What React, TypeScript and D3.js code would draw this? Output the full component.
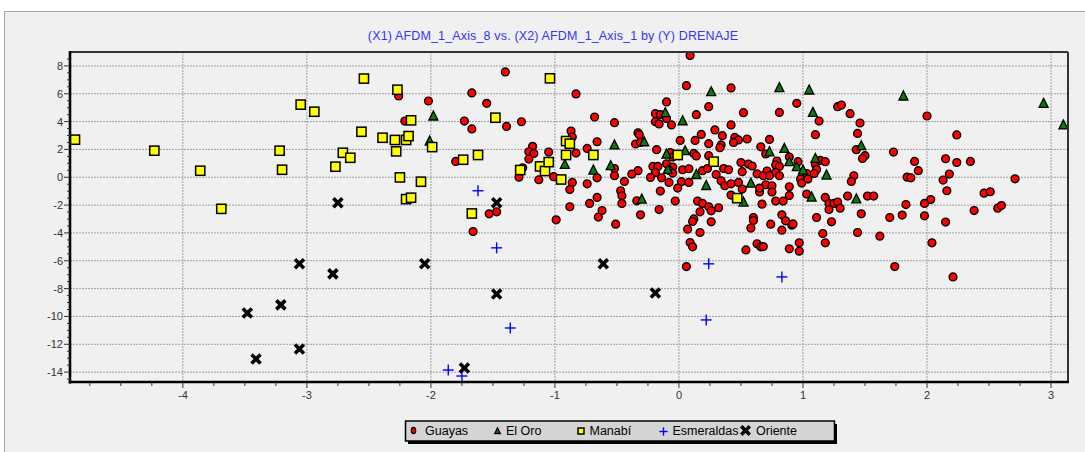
import React from "react";
import * as d3 from "d3";

const title = "(X1) AFDM_1_Axis_8 vs. (X2) AFDM_1_Axis_1 by (Y) DRENAJE";
const seriesNames = ["Guayas", "El Oro", "Manabí", "Esmeraldas", "Oriente"];
const xTicks = [-4, -3, -2, -1, 0, 1, 2, 3];
const yTicks = [8, 6, 4, 2, 0, -2, -4, -6, -8, -10, -12, -14];

const guayas: [number, number][] = [
  [-1.40, 7.57], [-2.26, 5.84], [-1.67, 6.06], [-2.02, 5.48], [-1.55, 5.31], [-0.83, 5.99], [-2.21, 4.04], [-1.73, 4.04],
  [-1.67, 3.47], [-1.39, 3.65], [-1.27, 3.99], [-0.68, 4.33], [-0.87, 3.32], [-0.86, 2.89], [-0.66, 2.55], [-1.18, 2.22],
  [-1.21, 1.83], [-1.17, 1.71], [-1.05, 1.81], [-0.83, 1.74], [-0.74, 2.07], [-1.21, 1.31], [-1.80, 1.14], [-1.26, 0.68],
  [-1.29, 0.01], [-1.13, -0.18], [-1.01, 0.04], [-0.86, -0.37], [-0.74, -0.47], [-0.66, -0.04], [-0.88, -0.88], [-0.66, -1.45],
  [-0.72, -1.88], [-0.88, -2.12], [-1.53, -2.63], [-1.47, -2.48], [-0.99, -3.06], [-0.65, -2.86], [-1.66, -3.90],
  [0.09, 8.74], [0.06, 6.58], [0.42, 6.42], [-0.10, 5.41], [0.24, 5.07], [0.14, 4.50], [0.52, 4.64], [-0.19, 4.57],
  [-0.15, 4.50], [-0.10, 4.23], [-0.52, 3.92], [-0.19, 3.99], [-0.16, 3.83], [-0.06, 3.76], [0.42, 3.76], [-0.33, 3.20],
  [-0.32, 3.06], [0.29, 3.40], [0.18, 3.08], [0.35, 2.99], [0.45, 2.86], [0.48, 2.68], [0.55, 2.75], [-0.35, 2.39],
  [-0.31, 2.50], [0.01, 2.65], [0.13, 2.65], [0.24, 2.41], [0.34, 2.32], [0.33, 2.12], [0.44, 2.50], [-0.18, 1.98],
  [-0.07, 1.78], [-0.05, 1.45], [0.12, 1.71], [0.14, 1.53], [0.24, 1.55], [0.50, 1.06], [0.56, 0.95], [-0.21, 0.78],
  [-0.17, 0.78], [-0.10, 0.97], [-0.05, 0.73], [-0.08, 0.49], [-0.33, 0.47], [-0.38, 0.23], [-0.52, 0.63], [-0.19, 0.35],
  [-0.05, 0.30], [0.03, 0.54], [0.08, 0.61], [0.19, 0.47], [0.23, 0.63], [0.30, 0.20], [0.36, 0.63], [0.40, 0.54],
  [0.51, 0.40], [-0.52, 0.11],
  [-0.23, -0.01], [-0.14, -0.04], [-0.08, -0.37], [0.02, -0.32], [0.08, -0.37], [-0.01, -0.78], [0.34, -0.25], [0.37, -0.61],
  [0.42, -0.47], [0.48, -0.37], [0.51, -0.85], [0.42, -1.28], [-0.44, -0.30], [-0.47, -0.97], [-0.46, -1.33], [-0.15, -0.99],
  [-0.34, -1.69], [-0.46, -1.88], [-0.03, -1.71], [-0.62, -2.39], [-0.31, -2.70], [-0.16, -2.32], [0.15, -1.71], [0.19, -1.88],
  [0.24, -2.12], [0.26, -2.41], [0.32, -2.19], [0.17, -2.48], [0.12, -2.99], [0.11, -3.18], [0.26, -3.20], [-0.51, -3.37],
  [0.07, -3.73], [0.17, -3.97], [0.09, -4.69], [0.11, -5.00], [0.54, -5.22], [0.06, -6.42],
  [0.95, 5.31], [0.81, 4.66], [1.28, 5.07], [1.31, 5.19], [1.38, 4.57], [1.13, 4.04], [1.46, 3.90], [1.10, 3.06],
  [1.44, 3.15], [0.73, 2.72], [0.66, 2.19], [1.43, 1.98], [1.73, 1.81], [1.50, 1.55], [1.48, 1.35], [0.70, 1.67],
  [0.59, 0.81], [0.79, 1.17], [0.78, 0.88], [0.81, 0.78], [0.89, 1.45], [0.96, 1.12], [1.10, 0.92], [1.14, 1.21],
  [1.18, 1.12], [1.11, 0.56], [1.09, 0.27], [0.71, 0.45], [0.63, 0.25], [0.78, 0.35], [0.68, 0.11], [0.73, 0.11],
  [0.81, 0.11], [1.03, 0.27], [1.41, 0.11],
  [0.65, -1.06], [0.70, -0.54], [0.75, -0.61], [0.75, -1.06], [0.65, -0.78], [0.89, -0.68], [0.89, -1.31], [0.98, -0.13],
  [0.99, -0.42], [1.04, -0.13], [1.03, -1.21], [1.39, -0.30], [1.84, 0.01], [0.78, -1.71], [0.84, -1.71], [0.67, -1.93],
  [1.18, -1.45], [1.21, -1.88], [1.25, -1.88], [1.28, -1.78], [1.21, -2.32], [1.30, -2.22], [1.36, -1.35], [1.52, -1.35],
  [1.57, -1.35], [1.83, -1.96], [1.47, -2.63], [1.70, -2.89], [1.80, -2.72], [1.11, -2.89], [1.23, -3.20], [0.60, -2.89],
  [0.60, -3.11], [0.83, -2.70], [0.86, -3.13], [0.74, -3.37], [0.91, -3.44], [0.92, -3.35], [0.83, -3.80], [0.58, -3.65],
  [1.16, -4.04], [1.44, -3.97], [1.62, -4.23], [1.18, -4.71], [0.97, -4.71], [0.63, -4.78], [0.66, -5.00], [0.68, -4.98],
  [0.89, -5.14], [0.97, -5.31], [1.74, -6.42],
  [2.00, 4.40], [2.24, 3.04], [1.90, 1.14], [2.15, 1.33], [2.24, 1.06], [2.35, 1.14], [1.93, 0.47], [1.87, -0.04],
  [2.18, 0.23], [2.13, -0.20], [2.71, -0.11], [2.16, -0.97], [2.46, -1.14], [2.51, -1.04], [2.03, -1.60], [1.98, -1.88],
  [1.98, -2.77], [2.38, -2.39], [2.57, -2.22], [2.60, -2.03], [2.15, -3.22], [2.04, -4.71], [2.21, -7.16],
];

const elOro: [number, number][] = [
  [-1.98, 4.40], [-2.01, 2.60], [-0.92, 0.92], [-0.69, 0.52], [0.26, 6.15], [-0.11, 4.64], [0.03, 4.06], [-0.52, 2.32],
  [-0.28, 2.55], [-0.10, 1.67], [0.05, 1.91], [-0.55, 0.83], [-0.09, 0.56], [0.14, 0.20], [0.22, -0.59], [-0.30, -1.57],
  [0.52, -1.78], [0.81, 6.44], [1.05, 6.27], [1.08, 4.66], [1.81, 5.84], [0.73, 1.83], [0.85, 2.07], [1.47, 2.27],
  [0.89, 1.12], [1.10, 1.35], [0.95, 0.76], [1.00, 0.52], [1.19, 0.16], [0.58, -0.42], [1.07, -1.42], [1.43, -1.55],
  [2.94, 5.31], [3.10, 3.76],
];

const manabi: [number, number][] = [
  [-4.87, 2.70], [-4.23, 1.91], [-3.86, 0.47], [-3.69, -2.27], [-3.22, 1.91], [-3.20, 0.54], [-3.05, 5.22], [-2.94, 4.71],
  [-2.77, 0.76], [-2.71, 1.76], [-2.65, 1.40], [-2.56, 3.27], [-2.54, 7.09], [-2.39, 2.84], [-2.29, 2.68], [-2.27, 6.29],
  [-2.28, 1.86], [-2.25, -0.01], [-2.20, 2.68], [-2.18, 2.96], [-2.16, 4.09], [-2.20, -1.57], [-2.16, -1.47], [-2.08, -0.32],
  [-1.99, 2.17], [-1.74, 1.26], [-1.62, 1.60], [-1.48, 4.28], [-1.67, -2.60], [-1.04, 7.11], [-1.28, 0.52], [-1.12, 0.78],
  [-1.08, 0.45], [-1.05, 1.09], [-0.95, -0.16], [-0.91, 1.60], [-0.91, 2.60], [-0.88, 2.41], [-0.69, 1.60], [-0.01, 1.60],
  [0.28, 1.12], [0.47, -1.50],
];

const esmeraldas: [number, number][] = [
  [-1.62, -0.97], [-1.47, -5.07], [-1.36, -10.83], [-1.86, -13.85], [-1.75, -14.28], [0.24, -6.22], [0.22, -10.25], [0.83, -7.16],
];

const oriente: [number, number][] = [
  [-2.75, -1.83], [-3.06, -6.22], [-3.48, -9.75], [-3.21, -9.17], [-3.41, -13.06], [-3.06, -12.34], [-2.79, -6.94], [-2.05, -6.22],
  [-1.47, -1.83], [-1.47, -8.38], [-1.73, -13.71], [-0.61, -6.22], [-0.19, -8.31],
];

const W = 1085;
const H = 452;
const L = 70, R = 1068, T = 52, B = 382;
const FONT = "'Liberation Sans', Arial, sans-serif";

function Circle({ x, y }: { x: number; y: number }) {
  return <circle cx={x} cy={y} r={3.9} fill="#ff0000" stroke="#000" strokeWidth={1.4} />;
}
function Tri({ x, y, s = 1 }: { x: number; y: number; s?: number }) {
  return (
    <path
      d={`M${x},${y - 5 * s} L${x + 4.5 * s},${y + 4 * s} L${x - 4.5 * s},${y + 4 * s} Z`}
      fill="#0b7a0b"
      stroke="#000"
      strokeWidth={1.3}
    />
  );
}
function Sq({ x, y, s = 1 }: { x: number; y: number; s?: number }) {
  return <rect x={x - 4.6 * s} y={y - 4.6 * s} width={9.2 * s} height={9.2 * s} fill="#ffff00" stroke="#000" strokeWidth={1.5} />;
}
function Plus({ x, y, s = 1 }: { x: number; y: number; s?: number }) {
  return (
    <g stroke="#0000ff" strokeWidth={1.4}>
      <line x1={x - 5.5 * s} y1={y} x2={x + 5.5 * s} y2={y} />
      <line x1={x} y1={y - 5.5 * s} x2={x} y2={y + 5.5 * s} />
    </g>
  );
}
function Cross({ x, y, s = 1 }: { x: number; y: number; s?: number }) {
  return (
    <g stroke="#000" strokeWidth={3.6 * s}>
      <line x1={x - 4.5 * s} y1={y - 4.5 * s} x2={x + 4.5 * s} y2={y + 4.5 * s} />
      <line x1={x - 4.5 * s} y1={y + 4.5 * s} x2={x + 4.5 * s} y2={y - 4.5 * s} />
    </g>
  );
}

export default function App() {
  const x = d3.scaleLinear().domain([-4.91, 3.137]).range([L, R]);
  const y = d3.scaleLinear().domain([-14.71, 9.0]).range([B, T]);

  const xMinor = d3.range(-4.75, 3.14, 0.25).filter((v) => Math.abs(v - Math.round(v)) > 1e-6);
  const yMinor = d3.range(-14.5, 9.0, 0.5).filter((v) => Math.abs(v / 2 - Math.round(v / 2)) > 1e-6);

  const legendItems = [
    { name: seriesNames[0], mx: 413.5, tx: 425 },
    { name: seriesNames[1], mx: 497.5, tx: 506 },
    { name: seriesNames[2], mx: 581, tx: 589.5 },
    { name: seriesNames[3], mx: 663.5, tx: 672.5 },
    { name: seriesNames[4], mx: 745.5, tx: 756 },
  ];

  return (
    <div style={{ position: "fixed", left: 0, top: 0 }}>
      <svg width={W} height={H} style={{ display: "block", fontFamily: FONT }}>
        <rect x={0} y={0} width={W} height={H} fill="#ffffff" />
        <rect x={4.5} y={11.5} width={W + 5} height={H} fill="#f0f0f0" stroke="#a8a8a8" strokeWidth={1} />

        <text x={553} y={40} textAnchor="middle" fontSize={12.5} fill="#3434f4" letterSpacing={0.15}>
          {title}
        </text>

        {/* grid */}
        <g stroke="#a0a0a0" strokeWidth={1} strokeDasharray="2,1">
          {xTicks.map((t) => (
            <line key={"gx" + t} x1={x(t)} x2={x(t)} y1={T} y2={B} />
          ))}
          {yTicks.map((t) => (
            <line key={"gy" + t} x1={L} x2={R} y1={y(t)} y2={y(t)} />
          ))}
        </g>

        {/* marks */}
        <g>
          {guayas.map((d, i) => (
            <Circle key={"g" + i} x={x(d[0])} y={y(d[1])} />
          ))}
          {elOro.map((d, i) => (
            <Tri key={"e" + i} x={x(d[0])} y={y(d[1])} />
          ))}
          {manabi.map((d, i) => (
            <Sq key={"m" + i} x={x(d[0])} y={y(d[1])} />
          ))}
          {esmeraldas.map((d, i) => (
            <Plus key={"s" + i} x={x(d[0])} y={y(d[1])} />
          ))}
          {oriente.map((d, i) => (
            <Cross key={"o" + i} x={x(d[0])} y={y(d[1])} />
          ))}
        </g>

        {/* frame */}
        <line x1={L} x2={R} y1={T} y2={T} stroke="#333" strokeWidth={2} />
        <line x1={R} x2={R} y1={T} y2={B} stroke="#333" strokeWidth={2} />
        <line x1={L} x2={L} y1={T - 1} y2={B + 1.5} stroke="#000" strokeWidth={2.6} />
        <line x1={L - 1.3} x2={R + 1} y1={B} y2={B} stroke="#000" strokeWidth={2.6} />

        {/* ticks */}
        <g stroke="#333" strokeWidth={1}>
          {yTicks.map((t) => (
            <line key={"yt" + t} x1={L - 6} x2={L} y1={y(t)} y2={y(t)} />
          ))}
          {yMinor.map((t) => (
            <line key={"ym" + t} x1={L - 3} x2={L} y1={y(t)} y2={y(t)} />
          ))}
          {xTicks.map((t) => (
            <line key={"xt" + t} x1={x(t)} x2={x(t)} y1={B} y2={B + 6} />
          ))}
          {xMinor.map((t) => (
            <line key={"xm" + t} x1={x(t)} x2={x(t)} y1={B} y2={B + 4} />
          ))}
        </g>
        <g fontSize={11} fill="#333">
          {yTicks.map((t) => (
            <text key={"yl" + t} x={L - 7} y={y(t) + 4} textAnchor="end">
              {t}
            </text>
          ))}
          {xTicks.map((t) => (
            <text key={"xl" + t} x={x(t)} y={399} textAnchor="middle">
              {t}
            </text>
          ))}
        </g>

        {/* legend */}
        <rect x={408} y={424} width={429} height={20} fill="#000" />
        <rect x={405.5} y={421} width={429} height={20} fill="#d4d4d4" stroke="#000" strokeWidth={1.5} />
        <ellipse cx={legendItems[0].mx} cy={430.5} rx={2.2} ry={3.2} fill="#ff0000" stroke="#000" strokeWidth={1.2} />
        <Tri x={legendItems[1].mx} y={431} s={0.62} />
        <Sq x={legendItems[2].mx} y={431} s={0.65} />
        <Plus x={legendItems[3].mx} y={431.5} s={0.75} />
        <Cross x={legendItems[4].mx} y={430.5} s={0.95} />
        <g fontSize={12.5} fill="#000">
          {legendItems.map((it) => (
            <text key={it.name} x={it.tx} y={435}>
              {it.name}
            </text>
          ))}
        </g>
      </svg>
    </div>
  );
}
